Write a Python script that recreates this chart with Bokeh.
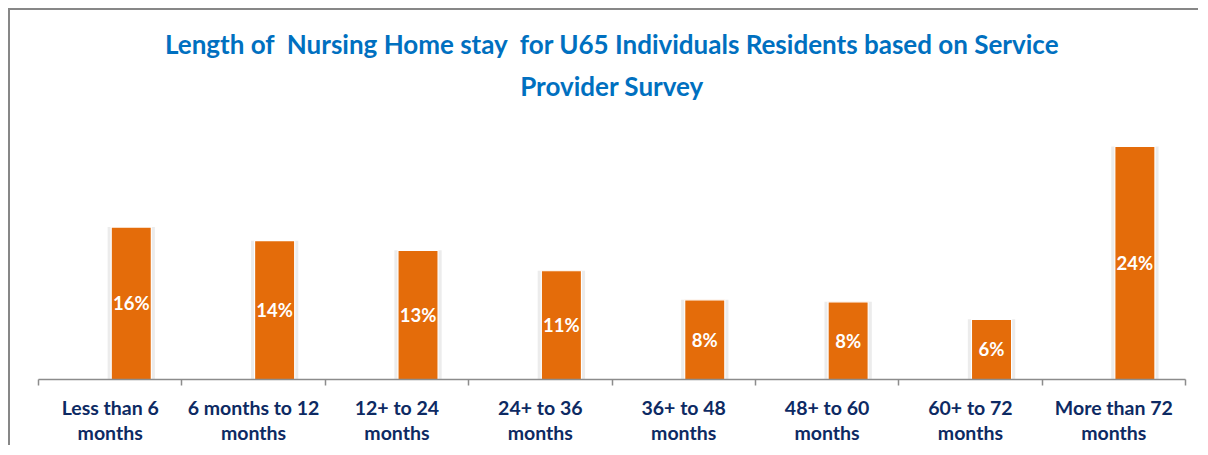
from bokeh.plotting import figure
from bokeh.models import (Range1d, LinearAxis, FixedTicker, ColumnDataSource, Title)
from bokeh.core.properties import value
from bokeh.embed import file_html
from bokeh.resources import INLINE

categories = ["Less than 6\nmonths", "6 months to 12\nmonths", "12+ to 24\nmonths",
              "24+ to 36\nmonths", "36+ to 48\nmonths", "48+ to 60\nmonths",
              "60+ to 72\nmonths", "More than 72\nmonths"]
values = [15.7, 14.3, 13.3, 11.2, 8.2, 8.0, 6.2, 24.0]
value_labels = ["16%", "14%", "13%", "11%", "8%", "8%", "6%", "24%"]

TITLE1 = "Length of\u00a0 Nursing Home stay\u00a0 for U65 Individuals Residents based on Service"
TITLE2 = "Provider Survey"

FONT = "Lato"
N = len(categories)
centers = [i + 0.5 for i in range(N)]
bounds = list(range(N + 1))
bar_x = [c + 0.147 for c in centers]
src = ColumnDataSource(dict(x=bar_x, val=values,
                            mid=[v / 2 for v in values], lab=value_labels))

p = figure(x_range=Range1d(0, N), y_range=Range1d(0, 27.7),
           width=1190, height=437, output_backend="svg", toolbar_location=None,
           x_axis_location=None, y_axis_location=None,
           min_border_left=28, min_border_right=15, min_border_top=100,
           min_border_bottom=67)
p.styles = {"border-left": "2px solid #878787", "border-top": "2px solid #878787",
            "margin-left": "8px", "margin-top": "8px"}
p.outline_line_color = None
p.xgrid.grid_line_color = None
p.ygrid.grid_line_color = None

t2 = Title(text=TITLE2, align="center", text_font=FONT, text_font_size="26px",
           text_font_style="bold", text_color="#0070C0", standoff=17)
t1 = Title(text=TITLE1, align="center", text_font=FONT, text_font_size="26px",
           text_font_style="bold", text_color="#0070C0", standoff=0)
p.add_layout(t2, "above")
p.add_layout(t1, "above")

axis = LinearAxis(ticker=FixedTicker(ticks=centers, minor_ticks=bounds),
                  major_label_overrides={c: lab for c, lab in zip(centers, categories)},
                  axis_line_color="#8c8c8c", axis_line_width=1.5,
                  major_tick_line_color=None, major_tick_in=0, major_tick_out=6,
                  minor_tick_line_color="#8c8c8c", minor_tick_line_width=1.5,
                  minor_tick_in=0, minor_tick_out=6,
                  major_label_text_font=FONT,
                  major_label_text_font_size="19.5px",
                  major_label_text_font_style="bold",
                  major_label_text_color="#0D2A63",
                  major_label_text_line_height=1.13,
                  major_label_standoff=10)
p.add_layout(axis, "below")

# soft shadow halo
p.vbar(x="x", top="val", width=0.33, source=src,
       fill_color="#bfbfbf", fill_alpha=0.3, line_color=None)
p.vbar(x="x", top="val", width=0.28, source=src,
       fill_color="#E46C0A", line_color="white", line_width=1.2)
p.text(x="x", y="mid", text="lab", source=src,
       text_font=value(FONT), text_font_size="18.5px", text_font_style="bold",
       text_color="white", text_align="center", text_baseline="middle")

open("out.html", "w").write(file_html(p, INLINE))
